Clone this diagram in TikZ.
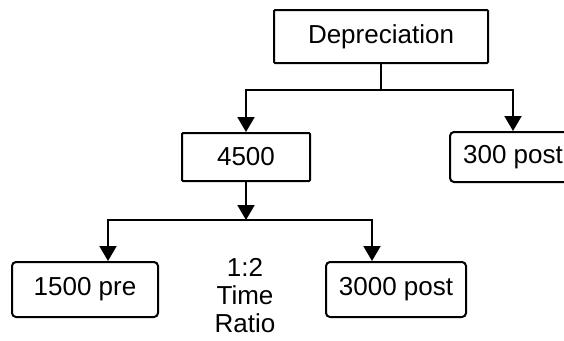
\documentclass[tikz,border=0pt]{standalone}
\usepackage{fontspec}
\setmainfont{Liberation Sans}
\usetikzlibrary{arrows.meta}
\begin{document}
\begin{tikzpicture}[x=1pt, y=-1pt, font=\fontsize{26}{28}\selectfont, line width=2pt,
        box/.style={draw, rectangle, rounded corners=1pt, inner sep=0pt},
        rbox/.style={draw, rectangle, rounded corners=4pt, inner sep=0pt},
        arr/.style={-{Triangle[width=17pt,length=15pt]}}]
        \useasboundingbox (0,0) rectangle (564,340);
        \clip (0,0) rectangle (564,340);
        \node[box, minimum width=214, minimum height=53] (dep) at (381, 36.5) {Depreciation};
        \node[box, minimum width=128, minimum height=48] (n4500) at (246, 157) {4500};
        \node[rbox, minimum width=126, minimum height=50] (post300) at (513, 157) {300 post};
        \node[rbox, minimum width=146, minimum height=55] (pre1500) at (85, 289.5) {1500 pre};
        \node[rbox, minimum width=140, minimum height=55] (post3000) at (396, 289.5) {3000 post};
        \node[align=center, inner sep=0pt] (ratio) at (245, 296) {1:2\\Time\\Ratio};
        \coordinate (j1) at (381, 90);
        \coordinate (j2) at (246, 220);
        \draw (dep.south) -- (j1);
        \draw[arr] (j1) -| (n4500.north);
        \draw[arr] (j1) -| (post300.north);
        \draw[arr] (n4500.south) -- (j2);
        \draw[arr] (j2) -| ([xshift=23pt]pre1500.north);
        \draw[arr] (j2) -| ([xshift=-24pt]post3000.north);
    \end{tikzpicture}
\end{document}
